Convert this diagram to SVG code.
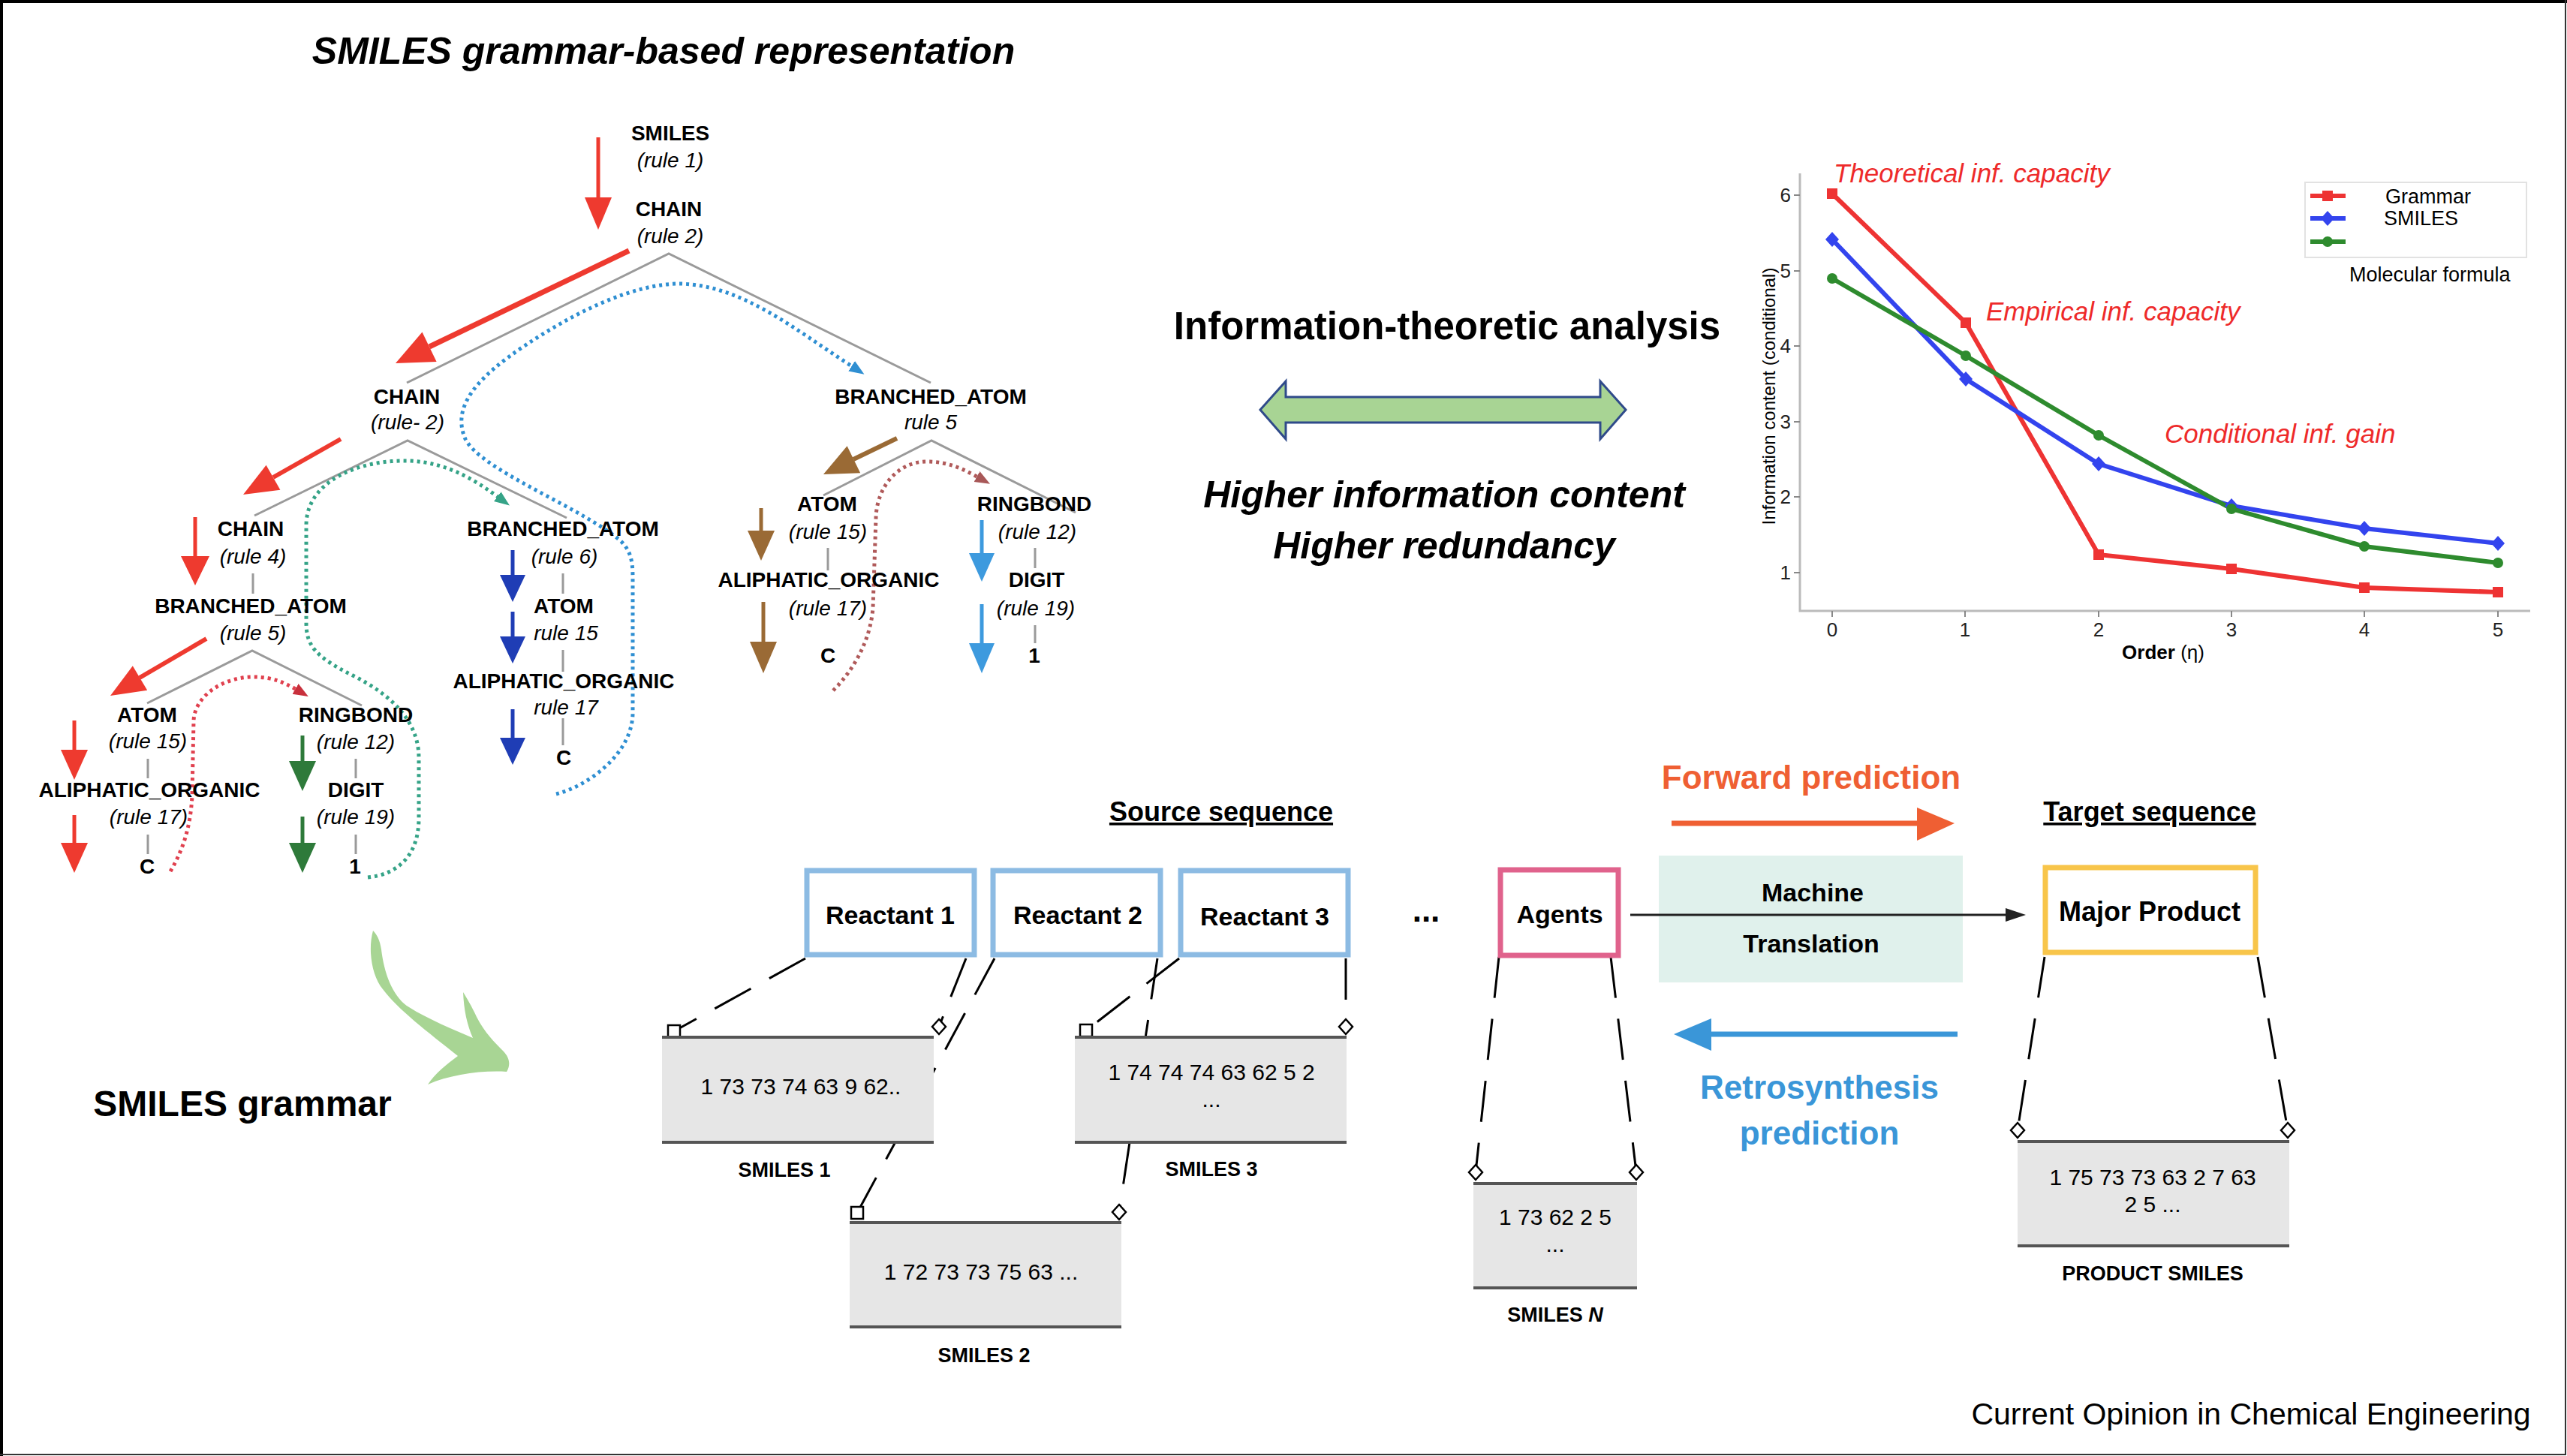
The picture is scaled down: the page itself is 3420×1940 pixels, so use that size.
<svg xmlns="http://www.w3.org/2000/svg" width="3420" height="1940" viewBox="0 0 3420 1940">
<defs>
<style>
text{font-family:"Liberation Sans",Arial,sans-serif;fill:#000}
.n{font-size:28px;font-weight:bold;text-anchor:middle}
.r{font-size:28px;font-style:italic;text-anchor:middle}
.tl{stroke:#9a9a9a;stroke-width:3;fill:none}
.dot{fill:none;stroke-width:5;stroke-dasharray:4 5}
.dash{stroke:#000;stroke-width:3;fill:none;stroke-dasharray:55 28}
.rbox{fill:#fff;stroke-width:7}
.gb{fill:#e6e6e6}
.gl{stroke:#555;stroke-width:4}
.seq{font-size:30px;text-anchor:middle}
.lab{font-size:27px;font-weight:bold;text-anchor:middle}
.bx{font-size:34px;font-weight:bold;text-anchor:middle}
.tick{font-size:26px;fill:#222}
.ann{font-size:35px;font-style:italic;fill:#ee2a2a}
.leg{font-size:27px}
</style>
<marker id="sq" markerWidth="20" markerHeight="20" refX="10" refY="10" orient="0" markerUnits="userSpaceOnUse">
<rect x="2" y="2" width="16" height="16" fill="#fff" stroke="#000" stroke-width="2.5"/>
</marker>
<marker id="dm" markerWidth="24" markerHeight="24" refX="12" refY="12" orient="0" markerUnits="userSpaceOnUse">
<path d="M12 2 L21 12 L12 22 L3 12 Z" fill="#fff" stroke="#000" stroke-width="2.5"/>
</marker>
<marker id="hb" markerWidth="30" markerHeight="30" refX="4" refY="10" orient="auto" markerUnits="userSpaceOnUse"><path d="M0 2 L20 10 L0 18 Z" fill="#2f8fd2"/></marker>
<marker id="ht" markerWidth="30" markerHeight="30" refX="4" refY="10" orient="auto" markerUnits="userSpaceOnUse"><path d="M0 2 L20 10 L0 18 Z" fill="#35a387"/></marker>
<marker id="hr" markerWidth="30" markerHeight="30" refX="4" refY="10" orient="auto" markerUnits="userSpaceOnUse"><path d="M0 2 L20 10 L0 18 Z" fill="#c8303c"/></marker>
<marker id="hm" markerWidth="30" markerHeight="30" refX="4" refY="10" orient="auto" markerUnits="userSpaceOnUse"><path d="M0 2 L20 10 L0 18 Z" fill="#a85858"/></marker>
</defs>

<rect x="0" y="0" width="3420" height="1940" fill="#fff"/>
<path d="M2 1940 V2 H3420" fill="none" stroke="#000" stroke-width="4"/>
<path d="M3418 0 V1938 H0" fill="none" stroke="#333" stroke-width="2"/>

<text x="884" y="85" style="font-size:50px;font-weight:bold;font-style:italic;text-anchor:middle">SMILES grammar-based representation</text>

<!-- tree connectors -->
<g id="tree-connectors">
<path class="tl" d="M542 510 L891 338 L1240 510"/>
<path class="tl" d="M339 687 L543 587 L755 690"/>
<path class="tl" d="M337 764 V791"/>
<path class="tl" d="M196 937 L336 867 L482 940"/>
<path class="tl" d="M197 1011 V1037 M197 1112 V1138"/>
<path class="tl" d="M474 1011 V1037 M474 1112 V1138"/>
<path class="tl" d="M750 764 V791 M750 866 V895 M750 957 V993"/>
<path class="tl" d="M1097 660 L1241 587 L1433 683"/>
<path class="tl" d="M1103 730 V760"/>
<path class="tl" d="M1379 730 V757 M1379 833 V857"/>

<!-- derivation arrows -->
<g fill="#ee3a2f" stroke="#ee3a2f">
<line x1="797" y1="183" x2="797" y2="265" stroke-width="5"/><polygon points="779,263 797,306 815,263" stroke="none"/>
<line x1="838" y1="334" x2="572" y2="462" stroke-width="7"/><polygon points="562.5,442.5 527,484 581.6,482.1" stroke="none"/>
<line x1="454" y1="585" x2="364" y2="636" stroke-width="6"/><polygon points="354.6,619.7 324,659 373.4,652.7" stroke="none"/>
<line x1="260" y1="689" x2="260" y2="743" stroke-width="5"/><polygon points="241,741 260,780 279,741" stroke="none"/>
<line x1="275" y1="851" x2="186" y2="903" stroke-width="6"/><polygon points="176.8,887.2 147,927 196.2,919.8" stroke="none"/>
<line x1="99" y1="960" x2="99" y2="1001" stroke-width="5"/><polygon points="81,999 99,1039 117,999" stroke="none"/>
<line x1="99" y1="1086" x2="99" y2="1125" stroke-width="5"/><polygon points="81,1123 99,1163 117,1123" stroke="none"/>
</g>
<g fill="#2e7a3a" stroke="#2e7a3a">
<line x1="403" y1="980" x2="403" y2="1016" stroke-width="5"/><polygon points="385,1014 403,1054 421,1014" stroke="none"/>
<line x1="403" y1="1088" x2="403" y2="1125" stroke-width="5"/><polygon points="385,1123 403,1163 421,1123" stroke="none"/>
</g>
<g fill="#1f3db5" stroke="#1f3db5">
<line x1="683" y1="733" x2="683" y2="768" stroke-width="5"/><polygon points="666,766 683,802 700,766" stroke="none"/>
<line x1="683" y1="815" x2="683" y2="850" stroke-width="5"/><polygon points="666,848 683,884 700,848" stroke="none"/>
<line x1="683" y1="945" x2="683" y2="985" stroke-width="5"/><polygon points="666,983 683,1019 700,983" stroke="none"/>
</g>
<g fill="#9a6a35" stroke="#9a6a35">
<line x1="1195" y1="584" x2="1137" y2="612" stroke-width="6"/><polygon points="1128.6,594.2 1097,632 1146.2,630.2" stroke="none"/>
<line x1="1014" y1="677" x2="1014" y2="709" stroke-width="5"/><polygon points="996,707 1014,747 1032,707" stroke="none"/>
<line x1="1017" y1="802" x2="1017" y2="857" stroke-width="5"/><polygon points="999,855 1017,897 1035,855" stroke="none"/>
</g>
<g fill="#3d9ade" stroke="#3d9ade">
<line x1="1308" y1="693" x2="1308" y2="739" stroke-width="5"/><polygon points="1291,737 1308,775 1325,737" stroke="none"/>
<line x1="1308" y1="805" x2="1308" y2="859" stroke-width="5"/><polygon points="1291,857 1308,897 1325,857" stroke="none"/>
</g>

<!-- dotted dependency curves -->
<path class="dot" stroke="#2f8fd2" marker-end="url(#hb)" d="M741 1058 C790 1045 843 1000 843 950 L843 770 C843 745 840 730 820 715 C760 670 640 625 620 585 C600 540 640 500 700 460 C760 420 840 378 906 378 C990 380 1060 440 1138 490"/>
<path class="dot" stroke="#35a387" marker-end="url(#ht)" d="M490 1169 C530 1165 558 1140 558 1090 L558 1010 C558 960 520 925 470 900 C420 875 408 860 408 830 L408 700 C408 640 480 612 545 614 C600 616 640 645 666 664"/>
<path class="dot" stroke="#e0404e" marker-end="url(#hr)" d="M227 1161 C245 1130 254 1100 256 1060 L258 960 C260 925 300 902 337 902 C365 902 380 910 397 920"/>
<path class="dot" stroke="#b05a5a" marker-end="url(#hm)" d="M1110 920 C1140 890 1160 850 1163 810 L1167 690 C1168 650 1195 615 1235 615 C1265 615 1285 626 1305 637"/>
</g>

<!-- tree nodes -->
<g id="node-smiles"><text class="n" x="893" y="187">SMILES</text><text class="r" x="893" y="223">(rule 1)</text></g>
<g id="node-chain1"><text class="n" x="891" y="288">CHAIN</text><text class="r" x="893" y="324">(rule 2)</text></g>
<g id="node-chain2"><text class="n" x="542" y="538">CHAIN</text><text class="r" x="543" y="572">(rule- 2)</text></g>
<g id="node-branched1"><text class="n" x="1240" y="538">BRANCHED_ATOM</text><text class="r" x="1240" y="572">rule 5</text></g>
<g id="node-chain3"><text class="n" x="334" y="714">CHAIN</text><text class="r" x="337" y="751">(rule 4)</text></g>
<g id="node-branched2"><text class="n" x="334" y="817">BRANCHED_ATOM</text><text class="r" x="337" y="853">(rule 5)</text></g>
<g id="node-atom-a"><text class="n" x="196" y="962">ATOM</text><text class="r" x="197" y="997">(rule 15)</text></g>
<g id="node-aliph-a"><text class="n" x="199" y="1062">ALIPHATIC_ORGANIC</text><text class="r" x="198" y="1098">(rule 17)</text></g>
<g id="node-c-a"><text class="n" x="196" y="1164">C</text></g>
<g id="node-ring-a"><text class="n" x="474" y="962">RINGBOND</text><text class="r" x="474" y="998">(rule 12)</text></g>
<g id="node-digit-a"><text class="n" x="474" y="1062">DIGIT</text><text class="r" x="474" y="1098">(rule 19)</text></g>
<g id="node-1-a"><text class="n" x="473" y="1164">1</text></g>
<g id="node-branched3"><text class="n" x="750" y="714">BRANCHED_ATOM</text><text class="r" x="752" y="751">(rule 6)</text></g>
<g id="node-atom-b"><text class="n" x="751" y="817">ATOM</text><text class="r" x="754" y="853">rule 15</text></g>
<g id="node-aliph-b"><text class="n" x="751" y="917">ALIPHATIC_ORGANIC</text><text class="r" x="754" y="952">rule 17</text></g>
<g id="node-c-b"><text class="n" x="751" y="1019">C</text></g>
<g id="node-atom-c"><text class="n" x="1102" y="681">ATOM</text><text class="r" x="1103" y="718">(rule 15)</text></g>
<g id="node-aliph-c"><text class="n" x="1104" y="782">ALIPHATIC_ORGANIC</text><text class="r" x="1103" y="820">(rule 17)</text></g>
<g id="node-c-c"><text class="n" x="1103" y="883">C</text></g>
<g id="node-ring-c"><text class="n" x="1378" y="681">RINGBOND</text><text class="r" x="1382" y="718">(rule 12)</text></g>
<g id="node-digit-c"><text class="n" x="1381" y="782">DIGIT</text><text class="r" x="1380" y="820">(rule 19)</text></g>
<g id="node-1-c"><text class="n" x="1378" y="883">1</text></g>

<!-- SMILES grammar -->
<g id="grammar-arrow">
<path fill="#a8d594" d="M497 1240 C490 1265 495 1300 510 1318 C530 1345 570 1375 610 1407 C595 1418 580 1430 570 1445 C600 1432 640 1426 675 1428 C680 1420 680 1410 670 1400 C660 1390 645 1375 635 1355 C628 1340 622 1330 617 1322 C618 1345 622 1365 630 1383 C605 1372 570 1358 545 1342 C525 1330 512 1300 508 1265 C506 1252 502 1245 497 1240 Z"/>
</g>
<text x="323" y="1487" style="font-size:48px;font-weight:bold;text-anchor:middle">SMILES grammar</text>

<!-- middle -->
<g id="info-analysis">
<text x="1928" y="452" style="font-size:51px;font-weight:bold;text-anchor:middle">Information-theoretic analysis</text>
<path d="M1679 546 L1713 508 L1713 529 L2132 529 L2132 508 L2166 546 L2132 585 L2132 563 L1713 563 L1713 585 Z" fill="#a8d494" stroke="#2f4a8a" stroke-width="3"/>
<text x="1924" y="676" style="font-size:50px;font-weight:bold;font-style:italic;text-anchor:middle">Higher information content</text>
<text x="1924" y="744" style="font-size:50px;font-weight:bold;font-style:italic;text-anchor:middle">Higher redundancy</text>
</g>

<!-- chart -->
<g id="chart">
<path d="M2398 231 V814 H3371" stroke="#bbb" stroke-width="3" fill="none"/>
<path d="M2390 260 H2398 M2390 361 H2398 M2390 461 H2398 M2390 562 H2398 M2390 662 H2398 M2390 763 H2398" stroke="#888" stroke-width="2"/>
<path d="M2441 814 V822 M2618 814 V822 M2796 814 V822 M2973 814 V822 M3150 814 V822 M3328 814 V822" stroke="#888" stroke-width="2"/>
<g style="text-anchor:end">
<text class="tick" x="2386" y="269">6</text><text class="tick" x="2386" y="370">5</text><text class="tick" x="2386" y="470">4</text><text class="tick" x="2386" y="571">3</text><text class="tick" x="2386" y="671">2</text><text class="tick" x="2386" y="772">1</text>
</g>
<g style="text-anchor:middle">
<text class="tick" x="2441" y="848">0</text><text class="tick" x="2618" y="848">1</text><text class="tick" x="2796" y="848">2</text><text class="tick" x="2973" y="848">3</text><text class="tick" x="3150" y="848">4</text><text class="tick" x="3328" y="848">5</text>
</g>
<text x="2882" y="878" style="font-size:26px;text-anchor:middle"><tspan font-weight="bold">Order</tspan> (η)</text>
<text transform="translate(2365 528) rotate(-90)" style="font-size:24px;text-anchor:middle">Information content (conditional)</text>
<polyline points="2441,258 2619,430 2796,739 2973,758 3150,783 3328,789" fill="none" stroke="#ee3333" stroke-width="6"/>
<polyline points="2441,319 2619,505 2796,618 2973,674 3150,704 3328,724" fill="none" stroke="#3344ee" stroke-width="6"/>
<polyline points="2441,371 2619,474 2796,580 2973,678 3150,728 3328,750" fill="none" stroke="#2e8b2e" stroke-width="6"/>
<g fill="#ee3333"><rect x="2434" y="251" width="14" height="14"/><rect x="2612" y="423" width="14" height="14"/><rect x="2789" y="732" width="14" height="14"/><rect x="2966" y="751" width="14" height="14"/><rect x="3143" y="776" width="14" height="14"/><rect x="3321" y="782" width="14" height="14"/></g>
<g fill="#3344ee"><path d="M2441 309 l9 10 -9 10 -9 -10Z M2619 495 l9 10 -9 10 -9 -10Z M2796 608 l9 10 -9 10 -9 -10Z M2973 664 l9 10 -9 10 -9 -10Z M3150 694 l9 10 -9 10 -9 -10Z M3328 714 l9 10 -9 10 -9 -10Z"/></g>
<g fill="#2e8b2e"><circle cx="2441" cy="371" r="7"/><circle cx="2619" cy="474" r="7"/><circle cx="2796" cy="580" r="7"/><circle cx="2973" cy="678" r="7"/><circle cx="3150" cy="728" r="7"/><circle cx="3328" cy="750" r="7"/></g>
<text class="ann" x="2443" y="243">Theoretical inf. capacity</text>
<text class="ann" x="2646" y="427">Empirical inf. capacity</text>
<text class="ann" x="2884" y="590">Conditional inf. gain</text>
<g id="legend">
<rect x="3071" y="243" width="295" height="100" fill="#fff" stroke="#e2e2e2" stroke-width="2"/>
<line x1="3078" y1="261" x2="3125" y2="261" stroke="#ee3333" stroke-width="6"/><rect x="3094" y="254" width="14" height="14" fill="#ee3333"/>
<line x1="3078" y1="291" x2="3125" y2="291" stroke="#3344ee" stroke-width="6"/><path d="M3101 281 l9 10 -9 10 -9 -10Z" fill="#3344ee"/>
<line x1="3078" y1="322" x2="3125" y2="322" stroke="#2e8b2e" stroke-width="6"/><circle cx="3101" cy="322" r="7" fill="#2e8b2e"/>
<text class="leg" x="3178" y="271">Grammar</text>
<text class="leg" x="3176" y="300">SMILES</text>
<text class="leg" x="3130" y="375">Molecular formula</text>
</g>
</g>

<!-- bottom: translation -->
<text x="2413" y="1051" style="font-size:44px;font-weight:bold;fill:#ef5f33;text-anchor:middle">Forward prediction</text>
<text x="1627" y="1094" style="font-size:36px;font-weight:bold;text-anchor:middle;text-decoration:underline">Source sequence</text>
<text x="2864" y="1094" style="font-size:36px;font-weight:bold;text-anchor:middle;text-decoration:underline">Target sequence</text>
<text x="2424" y="1464" style="font-size:44px;font-weight:bold;fill:#3a96d8;text-anchor:middle">Retrosynthesis</text>
<text x="2424" y="1525" style="font-size:44px;font-weight:bold;fill:#3a96d8;text-anchor:middle">prediction</text>
<text x="1900" y="1228" style="font-size:44px;font-weight:bold;text-anchor:middle">...</text>

<g id="connectors">
<line x1="2227" y1="1097" x2="2556" y2="1097" stroke="#ef5f33" stroke-width="7"/>
<polygon points="2554,1076 2604,1097 2554,1120" fill="#ef5f33"/>
<line x1="2608" y1="1378" x2="2278" y2="1378" stroke="#3a96d8" stroke-width="7"/>
<polygon points="2280,1357 2230,1378 2280,1400" fill="#3a96d8"/>
<line class="dash" x1="1073" y1="1277" x2="898" y2="1374" marker-end="url(#sq)"/>
<line class="dash" x1="1287" y1="1277" x2="1251" y2="1368" marker-end="url(#dm)"/>
<line class="dash" x1="1325" y1="1277" x2="1142" y2="1616" marker-end="url(#sq)"/>
<line class="dash" x1="1542" y1="1277" x2="1491" y2="1615" marker-end="url(#dm)"/>
<line class="dash" x1="1571" y1="1277" x2="1447" y2="1373" marker-end="url(#sq)"/>
<line class="dash" x1="1793" y1="1277" x2="1793" y2="1368" marker-end="url(#dm)"/>
<line class="dash" x1="1997" y1="1275" x2="1966" y2="1562" marker-end="url(#dm)"/>
<line class="dash" x1="2146" y1="1275" x2="2180" y2="1562" marker-end="url(#dm)"/>
<line class="dash" x1="2724" y1="1275" x2="2688" y2="1506" marker-end="url(#dm)"/>
<line class="dash" x1="3008" y1="1275" x2="3048" y2="1506" marker-end="url(#dm)"/>
</g>

<g id="reactant1"><rect class="rbox" x="1075" y="1160" width="223" height="112" stroke="#8cbbe3"/><text class="bx" x="1186" y="1231">Reactant 1</text></g>
<g id="reactant2"><rect class="rbox" x="1323" y="1160" width="223" height="112" stroke="#8cbbe3"/><text class="bx" x="1436" y="1231">Reactant 2</text></g>
<g id="reactant3"><rect class="rbox" x="1573" y="1160" width="223" height="112" stroke="#8cbbe3"/><text class="bx" x="1685" y="1233">Reactant 3</text></g>
<g id="agents"><rect class="rbox" x="1999" y="1159" width="157" height="114" stroke="#e0628c"/><text class="bx" x="2078" y="1230">Agents</text></g>
<g id="mt">
<rect x="2210" y="1140" width="405" height="169" fill="#e0f1ec"/>
<text class="bx" x="2415" y="1201">Machine</text>
<text class="bx" x="2413" y="1269">Translation</text>
<line x1="2172" y1="1219" x2="2675" y2="1219" stroke="#222" stroke-width="3"/>
<polygon points="2672,1210 2699,1219 2672,1228" fill="#222"/>
</g>
<g id="product"><rect class="rbox" x="2725" y="1156" width="280" height="113" stroke="#f8c54a"/><text x="2864" y="1227" style="font-size:36px;font-weight:bold;text-anchor:middle">Major Product</text></g>

<g id="smiles1"><rect class="gb" x="882" y="1382" width="362" height="140"/><path class="gl" d="M882 1382 H1244 M882 1522 H1244"/><text class="seq" x="1067" y="1458">1 73 73 74 63 9 62..</text><text class="lab" x="1045" y="1568">SMILES 1</text></g>
<g id="smiles3"><rect class="gb" x="1432" y="1382" width="362" height="140"/><path class="gl" d="M1432 1382 H1794 M1432 1522 H1794"/><text class="seq" x="1614" y="1439">1 74 74 74 63 62 5 2</text><text class="seq" x="1614" y="1475">...</text><text class="lab" x="1614" y="1567">SMILES 3</text></g>
<g id="smiles2"><rect class="gb" x="1132" y="1629" width="362" height="139"/><path class="gl" d="M1132 1629 H1494 M1132 1768 H1494"/><text class="seq" x="1307" y="1705">1 72 73 73 75 63 ...</text><text class="lab" x="1311" y="1815">SMILES 2</text></g>
<g id="smilesN"><rect class="gb" x="1963" y="1577" width="218" height="139"/><path class="gl" d="M1963 1577 H2181 M1963 1716 H2181"/><text class="seq" x="2072" y="1632">1 73 62 2 5</text><text class="seq" x="2072" y="1668">...</text><text class="lab" x="2072" y="1761">SMILES <tspan font-style="italic">N</tspan></text></g>
<g id="smilesP"><rect class="gb" x="2688" y="1521" width="362" height="139"/><path class="gl" d="M2688 1521 H3050 M2688 1660 H3050"/><text class="seq" x="2868" y="1579">1 75 73 73 63 2 7 63</text><text class="seq" x="2868" y="1615">2 5 ...</text><text class="lab" x="2868" y="1706">PRODUCT SMILES</text></g>

<text x="2999" y="1898" style="font-size:41px;text-anchor:middle">Current Opinion in Chemical Engineering</text>
</svg>
